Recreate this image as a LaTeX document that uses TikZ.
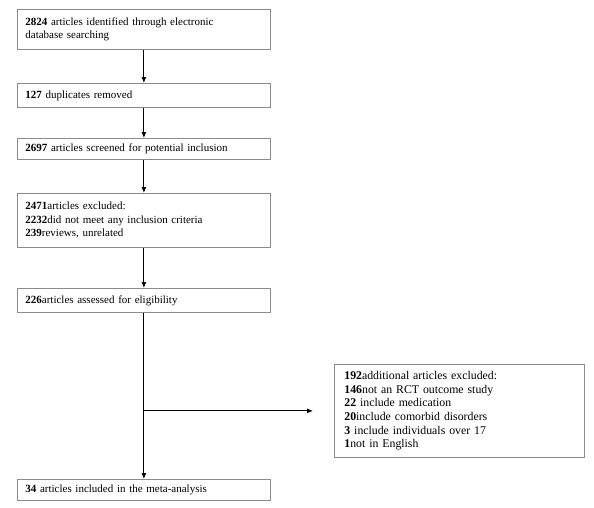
\documentclass[tikz,border=0pt]{standalone}
\usepackage{fontspec}
\setmainfont{Liberation Serif}
\usetikzlibrary{arrows.meta}
\begin{document}
\begin{tikzpicture}[x=1pt,y=-1pt,
  box/.style={draw=black!45, line width=0.8pt, rectangle, anchor=north west,
    minimum width=253pt, text width=237pt, inner xsep=8pt, inner ysep=2pt,
    align=left, font=\fontsize{11pt}{13.6pt}\selectfont},
  arr/.style={line width=0.9pt, -{Latex[length=6pt,width=5pt]}}]
\useasboundingbox (0,0) rectangle (594,507);
\node[box, minimum height=40pt] (b1) at (17,9) {\textbf{2824} articles identified through electronic\\ database searching};
\node[box, minimum height=24pt] (b2) at (17,83) {\textbf{127} duplicates removed};
\node[box, minimum height=21pt] (b3) at (17,138) {\textbf{2697} articles screened for potential inclusion};
\node[box, minimum height=54pt] (b4) at (17,193) {\textbf{2471}articles excluded:\\ \textbf{2232}did not meet any inclusion criteria\\ \textbf{239}reviews, unrelated};
\node[box, minimum height=24pt] (b5) at (17,288) {\textbf{226}articles assessed for eligibility};
\node[box, minimum height=21pt] (b6) at (17,479) {\textbf{34} articles included in the meta-analysis};
\node[box, minimum height=93pt, minimum width=250pt, text width=230pt, inner xsep=10pt,
  font=\fontsize{11.8pt}{13.6pt}\selectfont] (b7) at (334,364) {\textbf{192}additional articles excluded:\\ \textbf{146}not an RCT outcome study\\ \textbf{22} include medication\\ \textbf{20}include comorbid disorders\\ \textbf{3} include individuals over 17\\ \textbf{1}not in English};
\draw[arr] (b1.south) -- (b2.north);
\draw[arr] (b2.south) -- (b3.north);
\draw[arr] (b3.south) -- (b4.north);
\draw[arr] (b4.south) -- (b5.north);
\draw[arr] (b5.south) -- (b6.north);
\coordinate (br) at (b5.south |- b7.center);
\coordinate (brend) at (313,0 |- b7.center);
\draw[arr] (br) -- (brend);
\end{tikzpicture}
\end{document}
